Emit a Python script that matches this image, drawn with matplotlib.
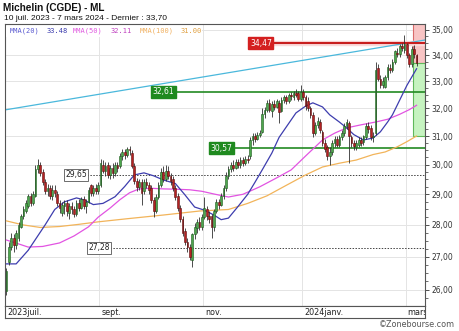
import numpy as np
import matplotlib.pyplot as plt
from matplotlib.patches import Rectangle
from matplotlib.ticker import FixedLocator, NullFormatter

# daily candles, 10 juil. 2023 -> 7 mars 2024
opens = [25.95, 26.85, 27.30, 27.60, 27.35, 27.60, 27.95, 28.30, 28.45, 28.60,
         28.95, 28.70, 28.95, 29.85, 30.00, 29.75, 29.40, 29.10, 29.20, 28.95,
         29.15, 29.00, 28.70, 28.40, 28.60, 28.70, 28.40, 28.60, 28.50, 28.35,
         28.70, 28.55, 28.85, 28.60, 28.75, 29.30, 29.05, 29.20, 29.10, 29.30,
         30.00, 29.80, 30.00, 29.65, 29.90, 29.70, 30.00, 29.95, 30.30, 30.45,
         30.35, 30.55, 30.40, 29.95, 29.45, 29.25, 29.40, 29.10, 29.40, 29.30,
         29.20, 28.80, 28.45, 28.90, 29.30, 29.75, 29.50, 29.80, 29.60, 29.50,
         29.20, 28.95, 28.55, 28.20, 27.80, 27.45, 27.30, 26.90, 27.70, 27.90,
         28.10, 27.95, 28.25, 28.50, 28.30, 28.30, 27.95, 28.45, 28.75, 28.65,
         28.95, 29.20, 29.60, 29.85, 30.00, 29.90, 30.10, 30.00, 30.15, 30.05,
         30.20, 30.30, 30.85, 31.00, 30.90, 31.05, 31.15, 31.80, 31.95, 32.20,
         31.90, 32.15, 32.05, 32.20, 31.90, 32.30, 32.40, 32.25, 32.50, 32.40,
         32.55, 32.55, 32.35, 32.60, 32.40, 32.25, 32.00, 31.75, 31.10, 31.40,
         31.50, 31.15, 30.75, 30.60, 30.30, 30.45, 30.75, 30.90, 30.70, 30.95,
         31.10, 31.35, 31.45, 30.95, 30.75, 30.60, 30.70, 30.85, 30.80, 30.95,
         31.35, 31.30, 30.95, 31.10, 33.50, 33.10, 32.85, 32.80, 33.15, 33.50,
         33.45, 33.75, 34.10, 34.05, 34.35, 34.20, 34.45, 34.00, 33.65, 34.25,
         34.00]
highs = [26.65, 27.45, 27.75, 27.70, 27.85, 28.10, 28.35, 28.60, 28.80, 29.00,
         29.05, 29.10, 30.00, 30.20, 30.10, 29.85, 29.50, 29.35, 29.30, 29.30,
         29.30, 29.10, 28.80, 28.75, 28.80, 28.80, 28.70, 28.75, 28.60, 28.80,
         28.85, 28.90, 28.95, 28.85, 29.25, 29.35, 29.30, 29.35, 29.40, 30.20,
         30.15, 30.10, 30.10, 30.00, 30.05, 30.10, 30.10, 30.40, 30.55, 30.55,
         30.60, 30.65, 30.50, 30.05, 29.55, 29.50, 29.50, 29.50, 29.55, 29.40,
         29.30, 28.90, 29.00, 29.40, 29.90, 29.95, 30.00, 29.95, 29.70, 29.60,
         29.30, 29.05, 28.65, 28.30, 27.90, 27.60, 27.40, 27.75, 28.05, 28.20,
         28.25, 28.35, 28.90, 28.60, 28.45, 28.35, 28.50, 28.85, 28.85, 29.05,
         29.30, 29.75, 29.95, 30.10, 30.15, 30.20, 30.20, 30.25, 30.25, 30.30,
         30.35, 30.95, 31.10, 31.10, 31.15, 31.20, 32.00, 32.05, 32.30, 32.35,
         32.25, 32.30, 32.35, 32.30, 32.40, 32.50, 32.50, 32.55, 32.60, 32.65,
         32.70, 32.65, 32.85, 32.70, 32.50, 32.40, 32.10, 31.85, 31.50, 31.70,
         31.60, 31.20, 30.90, 30.70, 30.60, 30.85, 31.00, 31.00, 31.05, 31.20,
         31.45, 31.60, 31.55, 31.05, 30.85, 30.85, 30.95, 30.95, 31.05, 31.45,
         31.50, 31.40, 31.15, 33.75, 33.65, 33.25, 33.15, 33.25, 33.65, 33.65,
         33.85, 34.20, 34.30, 34.45, 34.50, 34.80, 34.50, 34.10, 34.35, 34.40,
         34.05]
lows = [25.85, 26.75, 27.20, 27.15, 27.25, 27.50, 27.90, 28.20, 28.40, 28.55,
        28.60, 28.65, 28.90, 29.70, 29.60, 29.30, 29.00, 28.95, 28.85, 28.80,
        28.90, 28.60, 28.40, 28.30, 28.35, 28.30, 28.20, 28.35, 28.25, 28.30,
        28.45, 28.50, 28.50, 28.40, 28.70, 28.95, 28.95, 29.00, 29.00, 29.25,
        29.70, 29.60, 29.55, 29.50, 29.55, 29.60, 29.75, 29.90, 30.15, 30.20,
        30.25, 30.35, 29.90, 29.35, 29.10, 29.15, 28.65, 29.00, 29.20, 29.00,
        28.70, 28.25, 28.40, 28.85, 29.25, 29.40, 29.45, 29.50, 29.30, 29.10,
        28.80, 28.45, 28.10, 27.65, 27.35, 27.15, 26.90, 26.70, 27.55, 27.75,
        27.85, 27.85, 28.20, 28.15, 28.05, 27.60, 27.80, 28.40, 28.50, 28.60,
        28.85, 29.10, 29.50, 29.75, 29.80, 29.85, 29.90, 29.90, 29.95, 30.00,
        30.05, 30.20, 30.70, 30.80, 30.85, 30.95, 31.10, 31.65, 31.85, 31.85,
        31.70, 31.95, 32.00, 31.45, 31.85, 32.20, 32.15, 32.20, 32.30, 32.30,
        32.40, 32.25, 32.25, 32.30, 31.95, 31.90, 31.65, 30.95, 31.05, 31.30,
        31.10, 30.65, 30.45, 30.15, 30.00, 30.35, 30.60, 30.60, 30.60, 30.85,
        31.00, 31.25, 30.05, 30.60, 30.50, 30.50, 30.60, 30.65, 30.70, 30.90,
        31.10, 30.85, 30.80, 31.05, 33.00, 32.75, 32.75, 32.75, 33.05, 33.30,
        33.35, 33.65, 33.95, 33.95, 34.15, 34.10, 33.90, 33.55, 33.55, 33.90,
        33.60]
closes = [26.55, 27.30, 27.60, 27.35, 27.75, 28.00, 28.30, 28.50, 28.70, 28.95,
          28.70, 29.00, 29.85, 30.00, 29.70, 29.40, 29.10, 29.20, 28.95, 29.15,
          29.05, 28.70, 28.55, 28.65, 28.70, 28.45, 28.60, 28.50, 28.35, 28.70,
          28.55, 28.85, 28.60, 28.75, 29.15, 29.05, 29.20, 29.10, 29.30, 30.05,
          29.80, 29.95, 29.65, 29.90, 29.70, 30.00, 29.90, 30.30, 30.45, 30.35,
          30.55, 30.50, 29.95, 29.45, 29.25, 29.40, 29.05, 29.40, 29.30, 29.15,
          28.80, 28.45, 28.90, 29.30, 29.75, 29.50, 29.80, 29.60, 29.45, 29.20,
          28.90, 28.55, 28.20, 27.75, 27.45, 27.30, 27.00, 27.70, 27.95, 28.10,
          27.95, 28.25, 28.55, 28.30, 28.20, 27.95, 28.45, 28.75, 28.65, 28.95,
          29.20, 29.60, 29.85, 30.00, 29.90, 30.10, 30.00, 30.15, 30.05, 30.20,
          30.15, 30.85, 31.00, 30.90, 31.05, 31.10, 31.80, 31.95, 32.20, 31.95,
          32.15, 32.05, 32.25, 31.85, 32.30, 32.40, 32.25, 32.50, 32.45, 32.55,
          32.50, 32.35, 32.60, 32.40, 32.10, 32.00, 31.75, 31.10, 31.40, 31.55,
          31.20, 30.75, 30.55, 30.30, 30.45, 30.75, 30.90, 30.70, 30.95, 31.10,
          31.35, 31.50, 31.00, 30.75, 30.65, 30.75, 30.85, 30.75, 31.00, 31.35,
          31.25, 30.95, 31.00, 33.45, 33.10, 32.85, 33.00, 33.15, 33.55, 33.45,
          33.75, 34.15, 34.05, 34.35, 34.30, 34.45, 34.00, 33.65, 34.25, 34.05,
          33.70]

# moving averages
ma20_idx = [0, 4, 9, 16, 20, 24, 29, 32, 36, 40, 45, 49, 53, 57, 61, 65, 70, 74, 78, 82,
            86, 89, 92, 96, 100, 103, 106, 110, 113, 117, 120, 124, 127, 131, 134, 138,
            141, 144, 148, 152, 155, 158, 160, 163, 166, 170]
ma20_val = [26.78, 26.78, 27.20, 28.00, 28.50, 28.75, 28.88, 28.82, 28.66, 28.70, 28.92,
            29.26, 29.65, 29.72, 29.62, 29.48, 29.36, 28.98, 28.58, 28.48, 28.32, 28.17,
            28.22, 28.60, 29.00, 29.40, 29.82, 30.40, 30.95, 31.45, 31.83, 32.08, 32.20,
            32.05, 31.76, 31.50, 31.29, 31.05, 30.86, 30.93, 31.15, 31.50, 31.76, 32.30,
            32.85, 33.48]
ma50_idx = [0, 5, 9, 15, 22, 28, 34, 38, 43, 47, 51, 55, 60, 65, 70, 76, 81, 86, 92, 98,
            105, 112, 118, 124, 131, 136, 141, 147, 153, 158, 163, 167, 170]
ma50_val = [27.52, 27.40, 27.30, 27.32, 27.43, 27.65, 27.94, 28.25, 28.55, 28.82, 29.05,
            29.18, 29.20, 29.18, 29.17, 29.15, 29.10, 29.01, 28.91, 29.00, 29.25, 29.55,
            29.82, 30.30, 30.86, 31.10, 31.29, 31.40, 31.50, 31.60, 31.78, 31.95, 32.11]
ma100_idx = [0, 7, 14, 22, 30, 38, 50, 65, 80, 92, 100, 108, 116, 124, 131, 138, 145,
             152, 157, 162, 166, 170]
ma100_val = [28.13, 28.00, 27.92, 27.95, 28.02, 28.10, 28.20, 28.32, 28.45, 28.50, 28.70,
             28.95, 29.30, 29.65, 29.92, 30.05, 30.16, 30.35, 30.44, 30.62, 30.80, 31.00]

XMIN, XMAX = -0.62, 173.5
trend_idx = [XMIN, XMAX]
trend_val = [31.94, 34.60]

res_level = 34.47
sup_levels = [32.61, 30.57]
dot_levels = [29.65, 27.28]
last_close = 33.70
ma100_last = 31.00

month_idx = [0, 39, 82, 123, 166]
month_lbl = ["2023juil.", "sept.", "nov.", "2024janv.", "mars"]

W, H = 460, 331
fig = plt.figure(figsize=(W / 100, H / 100), dpi=100)
ax = fig.add_axes([5 / W, 1 - 306 / H, 420 / W, 282 / H])
ax.set_yscale('log')
ax.set_xlim(XMIN, XMAX)
ax.set_ylim(25.52, 35.24)

# grid
for m in month_idx[1:]:
    ax.axvline(m - 0.5, color='#e4e4e4', lw=0.7, zorder=0)
for v in range(26, 36):
    ax.axhline(v, color='#e4e4e4', lw=0.7, zorder=0)

# target zones on the right
zx = 168.6
ax.add_patch(Rectangle((zx, last_close), XMAX - zx, 36 - last_close,
                       fc='#f8c4c4', ec='#d96a6a', lw=0.8, zorder=1))
ax.add_patch(Rectangle((zx, ma100_last), XMAX - zx, last_close - ma100_last,
                       fc='#c6f3c0', ec='#5fb85a', lw=0.8, zorder=1))

# trend line
ax.plot(trend_idx, trend_val, color='#4ab8dc', lw=0.9, zorder=2)

# levels
def fmt(v):
    return f"{v:.2f}".replace('.', ',')

ax.fill_between([110, XMAX], res_level * 0.9975, res_level * 1.0025, color='#fadada', zorder=1)
ax.plot([110, XMAX], [res_level] * 2, color='#c81e1e', lw=1.5, zorder=2)
ax.text(110, res_level, fmt(res_level), ha='right', va='center', fontsize=5.5, color='white',
        bbox=dict(boxstyle='square,pad=0.2', fc='#d42020', ec='#d42020'), zorder=6)

for v, s in zip(sup_levels, [69.5, 93.5]):
    ax.plot([s, XMAX], [v, v], color='#238a23', lw=1.2, zorder=2)
    ax.text(s, v, fmt(v), ha='right', va='center', fontsize=5.5, color='white',
            bbox=dict(boxstyle='square,pad=0.2', fc='#1f8a1f', ec='#1f8a1f'), zorder=6)

for v, s in zip(dot_levels, [33.3, 42.8]):
    ax.plot([s, XMAX], [v, v], color='#444444', lw=0.7, ls=(0, (1.5, 1.5)), zorder=2)
    ax.text(s, v, fmt(v), ha='right', va='center', fontsize=5.5, color='#222222',
            bbox=dict(boxstyle='square,pad=0.2', fc='white', ec='#555555', lw=0.6), zorder=6)

# moving averages
ax.plot(ma100_idx, ma100_val, color='#f2b45a', lw=0.9, zorder=3)
ax.plot(ma50_idx, ma50_val, color='#e254e2', lw=0.9, zorder=3)
ax.plot(ma20_idx, ma20_val, color='#3d3dae', lw=0.9, zorder=3)

# candles
o = np.array(opens)
h = np.array(highs)
l = np.array(lows)
c = np.array(closes)
x = np.arange(len(c))
up = c >= o
bot = np.minimum(o, c)
body = np.maximum(np.abs(c - o), 0.03)
ax.vlines(x, l, h, color='#303030', lw=0.6, zorder=4)
ax.bar(x[up], body[up], bottom=bot[up], width=0.72, color='#4da64d',
       edgecolor='#1d5a1d', lw=0.4, zorder=5)
ax.bar(x[~up], body[~up], bottom=bot[~up], width=0.72, color='#b52222',
       edgecolor='#5e0e0e', lw=0.4, zorder=5)

# axes styling
ax.yaxis.tick_right()
ax.yaxis.set_major_locator(FixedLocator(list(range(26, 36))))
ax.yaxis.set_major_formatter(plt.FuncFormatter(lambda v, p: fmt(v)))
ax.yaxis.set_minor_locator(FixedLocator([26 + 0.25 * k for k in range(-1, 38) if k % 4]))
ax.yaxis.set_minor_formatter(NullFormatter())
ax.tick_params(axis='y', which='major', length=3, labelsize=5.5, pad=1.5,
               colors='#333333', width=0.6)
ax.tick_params(axis='y', which='minor', length=1.8, width=0.5, colors='#333333')
ax.set_xticks([])
for sp in ax.spines.values():
    sp.set_color('#555555')
    sp.set_linewidth(0.8)

# date strip
axs = fig.add_axes([5 / W, 1 - 318 / H, 420 / W, 12 / H])
axs.set_xlim(XMIN, XMAX)
axs.set_ylim(0, 1)
axs.set_xticks([])
axs.set_yticks([])
for sp in axs.spines.values():
    sp.set_color('#555555')
    sp.set_linewidth(0.8)
for m, lbl in zip(month_idx, month_lbl):
    axs.text(m + 0.3, 0.45, lbl, ha='left', va='center', fontsize=5.8,
             color='#222222', clip_on=True)

# titles and legend
fig.text(3 / W, 1 - 8 / H, "Michelin (CGDE) - ML", fontsize=7.2, fontweight='bold',
         family='Liberation Sans', va='center', color='#111111')
fig.text(4 / W, 1 - 18.5 / H, "10 juil. 2023 - 7 mars 2024 - Dernier : 33,70",
         fontsize=6, family='Liberation Sans', va='center', color='#111111')
fig.patches.append(Rectangle((6 / W, 1 - 37 / H), 196 / W, 11 / H, transform=fig.transFigure,
                             fc='white', ec='none', zorder=2))
leg = [("MMA(20)", 10, '#5a5ad0'), ("33.48", 47, '#3d3dae'),
       ("MMA(50)", 73, '#e05ae0'), ("32.11", 111, '#c040c0'),
       ("MMA(100)", 140, '#f0b060'), ("31.00", 181, '#e0a040')]
for t, px, col in leg:
    fig.text(px / W, 1 - 31 / H, t, fontsize=5, family='DejaVu Sans Mono',
             va='center', color=col, zorder=3)
fig.text(455 / W, 1 - 324.5 / H, "\u00a9Zonebourse.com", ha='right', va='center',
         fontsize=5.8, color='#555555')

fig.savefig("out.png", dpi=100)
